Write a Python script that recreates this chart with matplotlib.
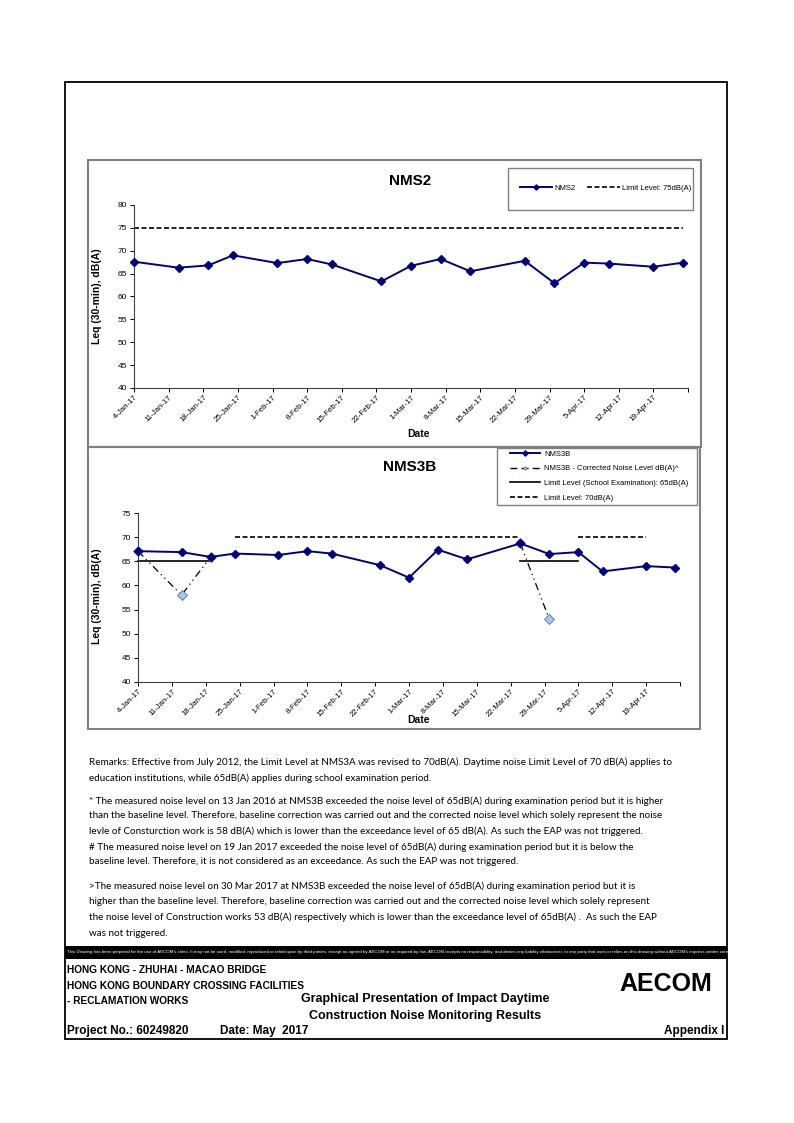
import matplotlib
matplotlib.use('Agg')
import matplotlib.pyplot as plt
import numpy as np
from matplotlib.patches import Rectangle
from matplotlib.lines import Line2D

W, H = 794, 1123

# --- data --- #

dates = np.array(['2017-01-04', '2017-01-13', '2017-01-19', '2017-01-24',
                  '2017-02-02', '2017-02-08', '2017-02-13', '2017-02-23',
                  '2017-03-01', '2017-03-07', '2017-03-13', '2017-03-24',
                  '2017-03-30', '2017-04-05', '2017-04-10', '2017-04-19',
                  '2017-04-25'], dtype='datetime64[D]')

nms2 = [67.6, 66.3, 66.8, 69.0, 67.3, 68.2, 67.0, 63.3, 66.7, 68.2, 65.5,
        67.8, 62.9, 67.4, 67.2, 66.5, 67.4]
nms2_limit = [75] * 17

nan = np.nan
nms3b = [67.1, 66.9, 65.9, 66.6, 66.3, 67.1, 66.6, 64.2, 61.6, 67.4, 65.4,
         68.7, 66.5, 66.9, 62.9, 64.0, 63.7]
nms3b_corrected = [67.1, 58.0, 65.9, nan, nan, nan, nan, nan, nan, nan, nan,
                   68.7, 53.0, nan, nan, nan, nan]
limit_exam = [65, 65, 65, nan, nan, nan, nan, nan, nan, nan, nan,
              65, 65, 65, nan, nan, nan]
limit_70 = [nan, nan, nan, 70, 70, 70, 70, 70, 70, 70, 70,
            70, nan, 70, 70, 70, nan]

tick_dates = np.arange('2017-01-04', '2017-04-20', 7, dtype='datetime64[D]')
tick_labels = ['4-Jan-17', '11-Jan-17', '18-Jan-17', '25-Jan-17', '1-Feb-17',
               '8-Feb-17', '15-Feb-17', '22-Feb-17', '1-Mar-17', '8-Mar-17',
               '15-Mar-17', '22-Mar-17', '29-Mar-17', '5-Apr-17', '12-Apr-17',
               '19-Apr-17']
x_end = np.datetime64('2017-04-26')

remarks = [
    (762, "Remarks: Effective from July 2012, the Limit Level at NMS3A was revised to 70dB(A). Daytime noise Limit Level of 70 dB(A) applies to"),
    (778, "education institutions, while 65dB(A) applies during school examination period."),
    (801, "* The measured noise level on 13 Jan 2016 at NMS3B exceeded the noise level of 65dB(A) during examination period but it is higher"),
    (816, "than the baseline level. Therefore, baseline correction was carried out and the corrected noise level which solely represent the noise"),
    (831, "levle of Consturction work is 58 dB(A) which is lower than the exceedance level of 65 dB(A). As such the EAP was not triggered."),
    (847, "# The measured noise level on 19 Jan 2017 exceeded the noise level of 65dB(A) during examination period but it is below the"),
    (862, "baseline level. Therefore, it is not considered as an exceedance. As such the EAP was not triggered."),
    (886, ">The measured noise level on 30 Mar 2017 at NMS3B exceeded the noise level of 65dB(A) during examination period but it is"),
    (901, "higher than the baseline level. Therefore, baseline correction was carried out and the corrected noise level which solely represent"),
    (917, "the noise level of Construction works 53 dB(A) respectively which is lower than the exceedance level of 65dB(A) .  As such the EAP"),
    (934, "was not triggered."),
]

disclaimer = ("This Drawing has been prepared for the use of AECOM's client. It may not be used, modified, "
              "reproduced or relied upon by third parties, except as agreed by AECOM or as required by law. "
              "AECOM accepts no responsibility, and denies any liability whatsoever, to any party that uses or "
              "relies on this drawing without AECOM's express written consent.")

NAVY = '#000080'
GREY = '#808080'
plt.rcParams['font.family'] = ['Liberation Sans', 'DejaVu Sans']


def rect(l, t, r, b):
    return [l / W, 1 - b / H, (r - l) / W, (b - t) / H]


fig = plt.figure(figsize=(W / 100, H / 100), dpi=100)
bg = fig.add_axes([0, 0, 1, 1])
bg.set_xlim(0, W)
bg.set_ylim(H, 0)
bg.axis('off')

# page frame and chart boxes
bg.add_patch(Rectangle((65, 82), 662, 957, fill=False, ec='black', lw=1.3))
bg.add_patch(Rectangle((88, 160), 613, 287, fill=False, ec=GREY, lw=1.5))
bg.add_patch(Rectangle((88, 447), 612, 282, fill=False, ec=GREY, lw=1.5))
bg.add_patch(Rectangle((508, 168), 185, 42, fill=False, ec=GREY, lw=1.0))
bg.add_patch(Rectangle((497, 448), 200, 57, fill=False, ec=GREY, lw=1.0))


def style_axis(ax, ymax):
    ax.set_xlim(dates[0], x_end)
    ax.set_ylim(40, ymax)
    ax.set_yticks(np.arange(40, ymax + 1, 5))
    ax.set_xticks(list(tick_dates) + [x_end])
    ax.set_xticklabels(tick_labels + [''], rotation=45, ha='right',
                       rotation_mode='anchor', fontsize=5.6)
    ax.tick_params(axis='y', labelsize=6, length=3, width=0.7, pad=2)
    ax.tick_params(axis='x', length=3, width=0.7, pad=1)
    for s in ('top', 'right'):
        ax.spines[s].set_visible(False)
    for s in ('left', 'bottom'):
        ax.spines[s].set_color('#404040')
        ax.spines[s].set_linewidth(0.8)
    ax.patch.set_alpha(0)


# --- NMS2 --- #
ax1 = fig.add_axes(rect(134, 205, 688, 388))
l_lim75, = ax1.plot(dates, nms2_limit, color='black', lw=1.2,
                    ls=(0, (3, 1.5)), clip_on=False)
l_nms2, = ax1.plot(dates, nms2, color=NAVY, lw=1.4, marker='D', ms=4.5,
                   clip_on=False, zorder=3)
style_axis(ax1, 80)
bg.text(410, 181, 'NMS2', fontsize=11, fontweight='bold', ha='center', va='center')
bg.text(97, 296, 'Leq (30-min), dB(A)', fontsize=7.5, fontweight='bold',
        rotation=90, ha='center', va='center')
bg.text(419, 434, 'Date', fontsize=7.5, fontweight='bold', ha='center', va='center')
fig.legend([l_nms2, l_lim75], ['NMS2', 'Limit Level: 75dB(A)'], ncol=2,
           loc='center left', bbox_to_anchor=(519 / W, 1 - 188 / H),
           frameon=False, fontsize=5.5, handlelength=4.2, handletextpad=0.3,
           columnspacing=1.6, borderaxespad=0, borderpad=0.1, markerscale=0.6)

# --- NMS3B --- #
ax2 = fig.add_axes(rect(138, 513, 680, 682))
l_lim70, = ax2.plot(dates, limit_70, color='black', lw=1.2,
                    ls=(0, (3, 1.5)), clip_on=False)
l_exam, = ax2.plot(dates, limit_exam, color='black', lw=1.2, clip_on=False)
l_corr, = ax2.plot(dates, nms3b_corrected, color='black', lw=0.9,
                   ls=(0, (6, 3, 1, 3, 1, 3)), marker='D', ms=5,
                   mfc='#a6c8ef', mec='#5a6e8c', mew=0.6, clip_on=False, zorder=2)
l_nms3b, = ax2.plot(dates, nms3b, color=NAVY, lw=1.4, marker='D', ms=4.5,
                    clip_on=False, zorder=3)
style_axis(ax2, 75)
bg.text(410, 467, 'NMS3B', fontsize=11, fontweight='bold', ha='center', va='center')
bg.text(97, 596, 'Leq (30-min), dB(A)', fontsize=7.5, fontweight='bold',
        rotation=90, ha='center', va='center')
bg.text(419, 720, 'Date', fontsize=7.5, fontweight='bold', ha='center', va='center')
corr_handle = Line2D([], [], color='black', lw=1.0, ls=(0, (5, 3)),
                     marker='D', ms=3, mfc='#a6c8ef', mec='#5a6e8c', mew=0.5)
fig.legend([l_nms3b, corr_handle, l_exam, l_lim70],
           ['NMS3B', 'NMS3B - Corrected Noise Level dB(A)^',
            'Limit Level (School Examination): 65dB(A)', 'Limit Level: 70dB(A)'],
           loc='upper left', bbox_to_anchor=(508 / W, 1 - 449 / H),
           frameon=False, fontsize=5.5, handlelength=4.0, handletextpad=0.5,
           labelspacing=0.95, borderaxespad=0, borderpad=0.2, markerscale=0.6)

# --- remarks --- #
renderer = fig.canvas.get_renderer()
probe = bg.text(89, remarks[0][0], remarks[0][1], fontsize=8,
                family=['Lato', 'DejaVu Sans'])
wpx = probe.get_window_extent(renderer).width
probe.remove()
rsize = 8 * 583 / wpx
for y, line in remarks:
    bg.text(89, y, line, fontsize=rsize, family=['Lato', 'DejaVu Sans'],
            va='center', ha='left')

# --- title block --- #
bg.add_patch(Rectangle((65, 946), 662, 13, color='black', lw=0))
band_txt = bg.text(67, 952.5, disclaimer, fontsize=3.2, color='white',
                   va='center', ha='left')
band_txt.set_clip_path(Rectangle((65, 946), 662, 13, transform=bg.transData))

bg.text(67, 970, 'HONG KONG - ZHUHAI - MACAO BRIDGE', fontsize=7.3,
        fontweight='bold', va='center')
bg.text(67, 986, 'HONG KONG BOUNDARY CROSSING FACILITIES', fontsize=7.3,
        fontweight='bold', va='center')
bg.text(67, 1001, '- RECLAMATION WORKS', fontsize=7.3, fontweight='bold',
        va='center')
bg.text(67, 1031, 'Project No.: 60249820', fontsize=8.5, fontweight='bold',
        va='center')
bg.text(220, 1031, 'Date: May  2017', fontsize=8.5, fontweight='bold',
        va='center')
bg.text(425, 999, 'Graphical Presentation of Impact Daytime', fontsize=9,
        fontweight='bold', ha='center', va='center')
bg.text(425, 1016, 'Construction Noise Monitoring Results', fontsize=9,
        fontweight='bold', ha='center', va='center')
bg.text(724, 1031, 'Appendix I', fontsize=8.5, fontweight='bold',
        ha='right', va='center')
bg.text(666, 984, 'AECOM', fontsize=18, fontweight='bold', ha='center',
        va='center')

fig.savefig('out.png', dpi=100)
